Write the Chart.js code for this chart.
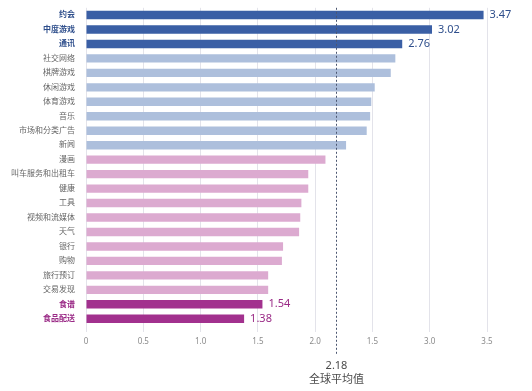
<!DOCTYPE html>
<html><head><meta charset="utf-8">
<script src="https://cdn.jsdelivr.net/npm/chart.js@4/dist/chart.umd.min.js"></script>
<style>html,body{margin:0;padding:0;background:#fff}#wrap{width:532px;height:391px;position:relative}</style>
</head><body><div id="wrap"><canvas id="c" width="532" height="391"></canvas></div>
<script>
const categories = ['约会','中度游戏','通讯','社交网络','棋牌游戏','休闲游戏','体育游戏','音乐','市场和分类广告','新闻','漫画','叫车服务和出租车','健康','工具','视频和流媒体','天气','银行','购物','旅行预订','交易发现','食谱','食品配送'];
const values = [3.47,3.02,2.76,2.70,2.66,2.52,2.49,2.48,2.45,2.27,2.09,1.94,1.94,1.88,1.87,1.86,1.72,1.71,1.59,1.59,1.54,1.38];
const groups = ['top','top','top','mid','mid','mid','mid','mid','mid','mid','low','low','low','low','low','low','low','low','low','low','bottom','bottom'];
const labelledValues = ['3.47','3.02','2.76',null,null,null,null,null,null,null,null,null,null,null,null,null,null,null,null,null,'1.54','1.38'];
const xTickValues = [0,0.5,1.0,1.5,2.0,2.5,3.0,3.5];
const xTickLabels = ['0','0.5','1.0','1.5','2.0','1.5','3.0','3.5'];
const globalAverage = 2.18;
const averageLabel = ['2.18','全球平均值'];

const barColors = {top:'#3a5fa5', mid:'#adbfdc', low:'#dcaad0', bottom:'#a2318e'};
const labelColors = {top:'#2f4f8c', mid:'#666666', low:'#666666', bottom:'#9a2a86'};

const FONT = '"Noto Sans","Noto Sans CJK SC",sans-serif';

const overlay = {
  id:'overlay',
  afterDatasetsDraw(chart){
    const ctx = chart.ctx, xs = chart.scales.x;
    ctx.save();
    ctx.font = '11px ' + FONT;
    ctx.textBaseline = 'middle';
    ctx.textAlign = 'left';
    const meta = chart.getDatasetMeta(0);
    values.forEach((v,i)=>{
      if(labelledValues[i]==null) return;
      const el = meta.data[i];
      ctx.fillStyle = labelColors[groups[i]];
      ctx.fillText(labelledValues[i], el.x + 6, el.y);
    });
    const ax = Math.round(xs.getPixelForValue(globalAverage)) + 0.5;
    ctx.strokeStyle = '#4b5670';
    ctx.lineWidth = 1;
    ctx.setLineDash([2,2]);
    ctx.beginPath();
    ctx.moveTo(ax, chart.chartArea.top);
    ctx.lineTo(ax, 355);
    ctx.stroke();
    ctx.setLineDash([]);
    ctx.fillStyle = '#4a4a4a';
    ctx.textAlign = 'center';
    ctx.font = '11px ' + FONT;
    ctx.fillText(averageLabel[0], ax, 366);
    ctx.fillText(averageLabel[1], ax, 380);
    ctx.restore();
  }
};

new Chart(document.getElementById('c'), {
  type:'bar',
  data:{
    labels: categories,
    datasets:[{
      data: values,
      backgroundColor: groups.map(g=>barColors[g]),
      barPercentage: 0.58,
      categoryPercentage: 1.0,
      borderWidth: 0
    }]
  },
  options:{
    indexAxis:'y',
    responsive:false,
    animation:false,
    layout:{padding:{top:0,right:45,left:0,bottom:0}},
    plugins:{legend:{display:false},tooltip:{enabled:false}},
    scales:{
      x:{
        min:0, max:3.5,
        afterBuildTicks(scale){ scale.ticks = xTickValues.map(v=>({value:v})); },
        afterFit(scale){ scale.height = 65; },
        grid:{display:true, color:'#e3e3ea', lineWidth:1, tickLength:6, drawTicks:true, drawOnChartArea:true},
        border:{display:false},
        ticks:{
          padding:5,
          color:'#8a8a8a',
          font:{size:8, family:FONT},
          callback(v, idx){ return xTickLabels[idx]; },
          maxRotation:0
        }
      },
      y:{
        afterFit(scale){ scale.width = 86; },
        grid:{display:false, drawTicks:true, tickLength:8},
        border:{display:false},
        ticks:{
          padding:3,
          autoSkip:false,
          color(ctx){ return labelColors[groups[ctx.index]]; },
          font(ctx){ const g = groups[ctx.index]; return {size:8, family:FONT, weight:(g==='top'||g==='bottom')?'bold':'normal'}; }
        }
      }
    }
  },
  plugins:[overlay]
});
</script></body></html>
